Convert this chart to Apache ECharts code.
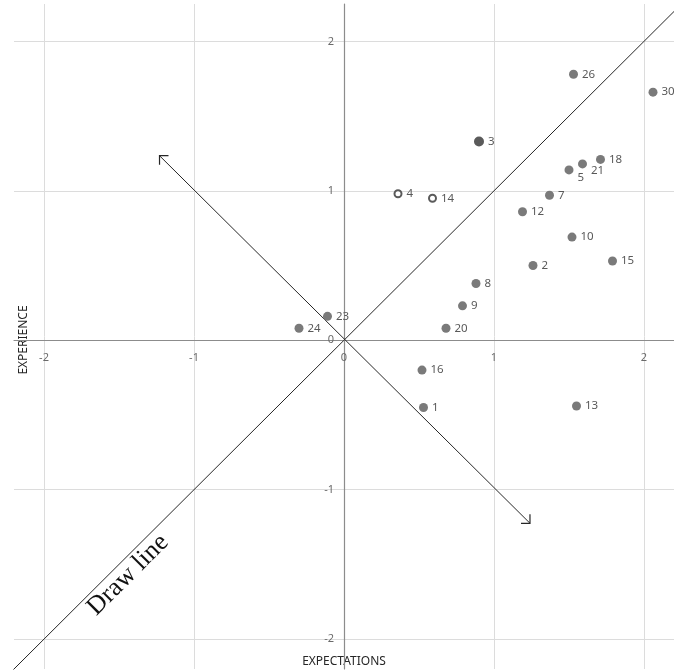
<!DOCTYPE html>
<html>
<head>
<meta charset="utf-8">
<script src="https://cdn.jsdelivr.net/npm/echarts@6/dist/echarts.min.js"></script>
<style>
html,body{margin:0;padding:0;background:#fff;}
#c{width:674px;height:672px;}
</style>
</head>
<body>
<div id="c"></div>
<script>
// ---- data ----
const ids          = ['1','2','3','4','5','7','8','9','10','12','13','14','15','16','18','20','21','23','24','26','30'];
const expectations = [0.53,1.26,0.90,0.36,1.50,1.37,0.88,0.79,1.52,1.19,1.55,0.59,1.79,0.52,1.71,0.68,1.59,-0.11,-0.30,1.53,2.06];
const experience   = [-0.45,0.50,1.33,0.98,1.14,0.97,0.38,0.23,0.69,0.86,-0.44,0.95,0.53,-0.20,1.21,0.08,1.18,0.16,0.08,1.78,1.66];
const hollowIds    = ['4','14'];
const darkIds      = ['3'];
const drawLine     = [[-2.4,-2.4],[2.4,2.4]];
const arrowLine    = [[-1.23,1.235,1.24,-1.225]];
const xTitle = 'EXPECTATIONS';
const yTitle = 'EXPERIENCE';
const annotation = 'Draw line';
const xRange = [-2.2, 2.2];
const yRange = [-2.2, 2.25];

// label nudges (styling only)
const labelNudge = {'5':[0,8],'21':[0,7]};

function pts(filter){
  const out=[];
  ids.forEach((id,i)=>{ if(filter(id)){
    const item={name:id,value:[expectations[i],experience[i]]};
    if(labelNudge[id]) item.label={offset:labelNudge[id]};
    out.push(item);
  }});
  return out;
}

const W=674,H=672, G={left:14,right:0,top:4,bottom:3};
const gw=W-G.left-G.right, gh=H-G.top-G.bottom;
// offsets that put each axis (line + labels) through the origin
const yAxisOffset = -gw*(0-xRange[0])/(xRange[1]-xRange[0]);
const xAxisOffset = -gh*(0-yRange[0])/(yRange[1]-yRange[0]);

const chart = echarts.init(document.getElementById('c'));
const labelStyle = {show:true,position:'right',distance:4,formatter:'{b}',color:'#595959',fontSize:11.5,fontFamily:'Noto Sans'};
const axisCommon = {
  type:'value', splitNumber:5,
  axisLine:{onZero:false,lineStyle:{color:'#8c8c8c',width:1.2}},
  axisTick:{show:false},
  splitLine:{show:true,showMinLine:false,showMaxLine:false,lineStyle:{color:'#dcdcdc',width:1}},
  axisLabel:{showMinLabel:false,showMaxLabel:false,color:'#6a6a6a',fontSize:11,fontFamily:'Noto Sans',margin:10}
};

chart.setOption({
  animation:false,
  grid:Object.assign({containLabel:false,outerBoundsMode:'none'},G),
  xAxis:Object.assign({},axisCommon,{min:xRange[0],max:xRange[1],position:'bottom',offset:xAxisOffset,
    axisLabel:Object.assign({},axisCommon.axisLabel,{margin:12})}),
  yAxis:Object.assign({},axisCommon,{min:yRange[0],max:yRange[1],position:'left',offset:yAxisOffset}),
  graphic:[
    {type:'text', x:128, y:575, rotation:Math.PI/4,
     style:{text:annotation,font:'26px "Liberation Serif"',fill:'#111',align:'center',verticalAlign:'middle'}},
    {type:'text', x:344, y:662,
     style:{text:xTitle,font:'12px "Noto Sans"',fill:'#262626',align:'center',verticalAlign:'middle'}},
    {type:'text', x:24, y:340, rotation:Math.PI/2,
     style:{text:yTitle,font:'12px "Noto Sans"',fill:'#262626',align:'center',verticalAlign:'middle'}}
  ],
  series:[
    {type:'line',data:drawLine,symbol:'none',clip:true,silent:true,
     lineStyle:{color:'#262626',width:1},z:1},
    {type:'custom',data:arrowLine,silent:true,z:1,
     renderItem:function(params,api){
       const p1=api.coord([api.value(0),api.value(1)]);
       const p2=api.coord([api.value(2),api.value(3)]);
       function head(tip,other){
         const dx=other[0]-tip[0], dy=other[1]-tip[1];
         const L=Math.hypot(dx,dy), ux=dx/L, uy=dy/L, s=9, c=Math.SQRT1_2;
         const a=[tip[0]+s*(ux*c-uy*c), tip[1]+s*(ux*c+uy*c)];
         const b=[tip[0]+s*(ux*c+uy*c), tip[1]+s*(-ux*c+uy*c)];
         return {type:'polyline',shape:{points:[a,tip,b]},style:{stroke:'#262626',lineWidth:1.2,fill:null}};
       }
       return {type:'group',children:[
         {type:'line',shape:{x1:p1[0],y1:p1[1],x2:p2[0],y2:p2[1]},style:{stroke:'#262626',lineWidth:1}},
         head(p1,p2), head(p2,p1)
       ]};
     }},
    {type:'scatter',data:pts(id=>hollowIds.indexOf(id)<0 && darkIds.indexOf(id)<0),
     symbolSize:9,itemStyle:{color:'#7a7a7a',opacity:1},label:labelStyle,z:3},
    {type:'scatter',data:pts(id=>darkIds.indexOf(id)>=0),
     symbolSize:10,itemStyle:{color:'#5a5a5a',opacity:1},label:labelStyle,z:3},
    {type:'scatter',data:pts(id=>hollowIds.indexOf(id)>=0),
     symbolSize:7,itemStyle:{color:'#ffffff',borderColor:'#5a5a5a',borderWidth:2,opacity:1},label:labelStyle,z:3}
  ]
});
</script>
</body>
</html>
